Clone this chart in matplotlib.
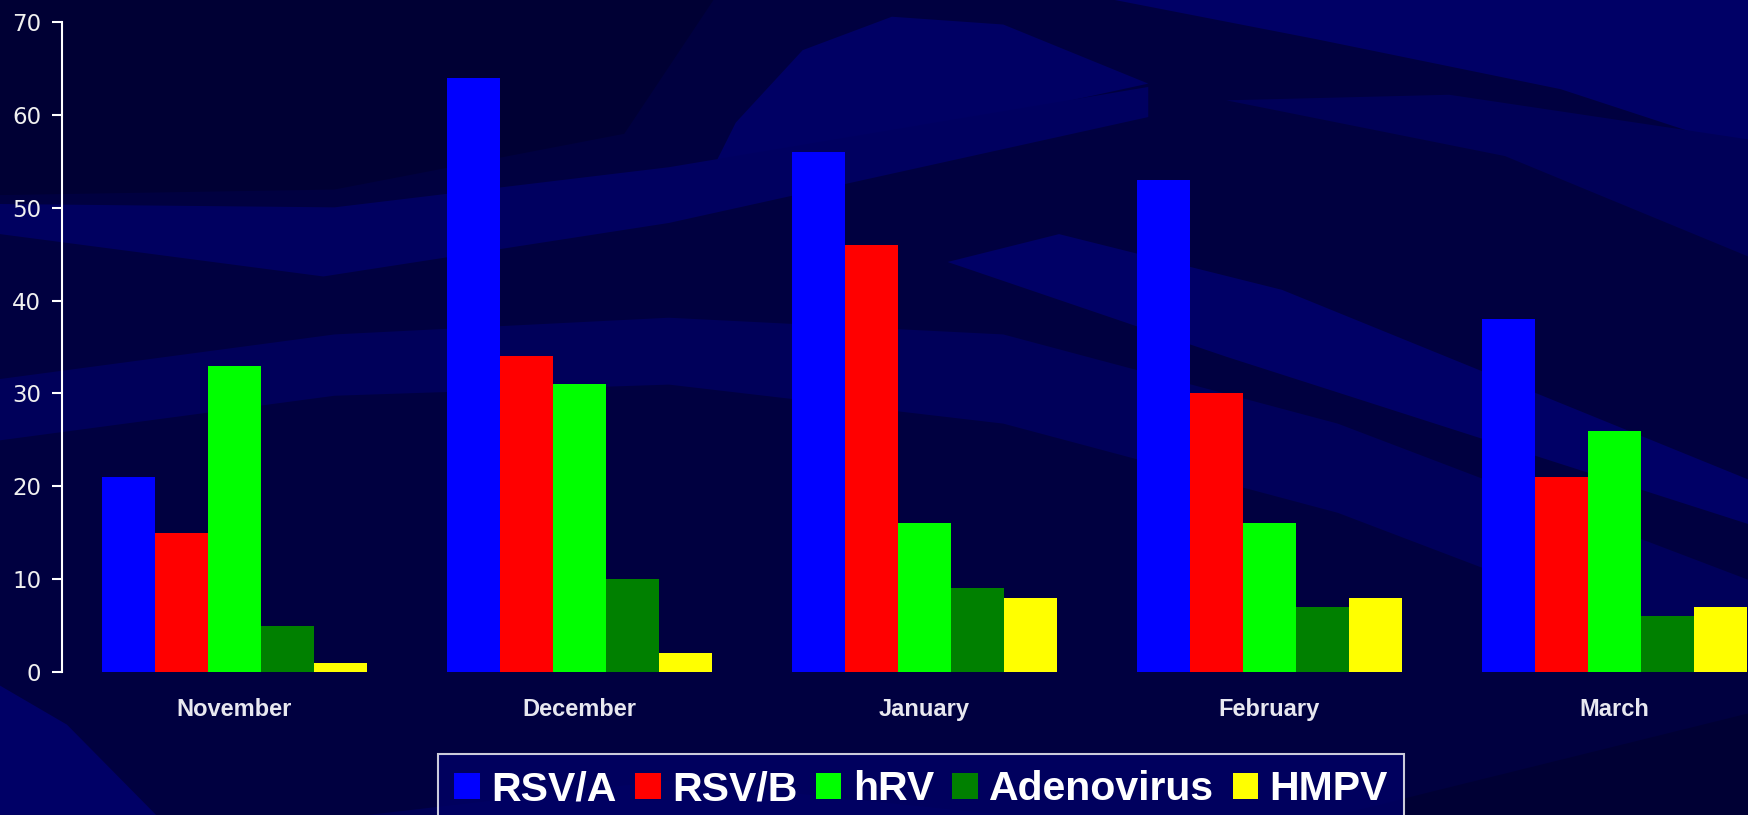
import numpy as np
import matplotlib.pyplot as plt
from matplotlib.patches import Patch, Polygon

# Monthly detections per virus
months = ["November", "December", "January", "February", "March"]
viruses = ["RSV/A", "RSV/B", "hRV", "Adenovirus", "HMPV"]
rsv_a = [21, 64, 56, 53, 38]
rsv_b = [15, 34, 46, 30, 21]
hrv = [33, 31, 16, 16, 26]
adeno = [5, 10, 9, 7, 6]
hmpv = [1, 2, 8, 8, 7]
series = [rsv_a, rsv_b, hrv, adeno, hmpv]
colors = ["#0000ff", "#ff0000", "#00ff00", "#008000", "#ffff00"]

W, H = 1748, 815
fig = plt.figure(figsize=(W / 100, H / 100), dpi=100)
fig.patch.set_facecolor("#000040")

# decorative swooshes behind the chart (pixel coords, scaled from a 1568 wide sketch)
bg = fig.add_axes([0, 0, 1, 1], zorder=0)
bg.set_xlim(0, W)
bg.set_ylim(H, 0)
bg.axis("off")
k = W / 1568
swooshes = [
    ([(0, 0), (640, 0), (560, 120), (300, 170), (0, 175)], "#000034"),
    ([(1000, 0), (1568, 0), (1568, 135), (1400, 80), (1180, 35)], "#000066"),
    ([(620, 190), (660, 110), (720, 45), (800, 15), (900, 22), (1030, 75), (800, 125)], "#000064"),
    ([(0, 183), (300, 186), (600, 150), (1030, 78), (1030, 105), (600, 200), (290, 248), (0, 210)], "#000060"),
    ([(0, 340), (300, 300), (600, 285), (900, 300), (1200, 380), (1568, 520),
      (1568, 600), (1200, 460), (900, 380), (600, 345), (300, 355), (0, 395)], "#00005a"),
    ([(850, 235), (1100, 320), (1568, 470), (1568, 430), (1150, 260), (950, 210)], "#000066"),
    ([(1100, 90), (1300, 85), (1568, 125), (1568, 230), (1350, 140)], "#000058"),
    ([(0, 615), (60, 650), (140, 731), (0, 731)], "#000066"),
    ([(330, 731), (600, 700), (900, 731)], "#000055"),
    ([(1200, 731), (1568, 640), (1568, 731)], "#000034"),
]
for pts, c in swooshes:
    bg.add_patch(Polygon(np.array(pts) * k, closed=True, facecolor=c, edgecolor="none"))

# chart area
ax = fig.add_axes([62 / W, 143 / H, (W - 62) / W, 650 / H], zorder=1)
ax.patch.set_alpha(0)
x = np.arange(len(months))
bw = 0.154
for i, (vals, c) in enumerate(zip(series, colors)):
    ax.bar(x + (i - 2) * bw, vals, width=bw, color=c, linewidth=0)

ax.set_xlim(-0.5, 4.387)
ax.set_ylim(0, 70)
ax.set_yticks(range(0, 71, 10))
ax.set_xticks(x)
ax.set_xticklabels(months, fontfamily="Liberation Sans", fontweight="bold",
                   fontsize=17, color="#e8e8f0")
ax.tick_params(axis="x", length=0, pad=19)
ax.tick_params(axis="y", colors="white", labelsize=16.5, length=7, width=1.5,
               pad=8, labelcolor="#f0f0f0")
for s in ["top", "right", "bottom"]:
    ax.spines[s].set_visible(False)
ax.spines["left"].set_color("white")
ax.spines["left"].set_linewidth(1.5)

handles = [Patch(facecolor=c, edgecolor="none", label=v) for v, c in zip(viruses, colors)]
leg = fig.legend(handles=handles, loc="upper center", bbox_to_anchor=(0.527, 0.0748),
                 ncol=5, frameon=True, fancybox=False,
                 prop={"family": "Liberation Sans", "weight": "bold", "size": 29.5},
                 handlelength=0.62, handleheight=0.62, handletextpad=0.28,
                 columnspacing=0.45, borderpad=0.4, borderaxespad=0)
leg.get_frame().set_facecolor("#000066")
leg.get_frame().set_edgecolor("white")
leg.get_frame().set_linewidth(1.5)
for t in leg.get_texts():
    t.set_color("white")

fig.savefig("out.png", dpi=100, facecolor=fig.get_facecolor())
